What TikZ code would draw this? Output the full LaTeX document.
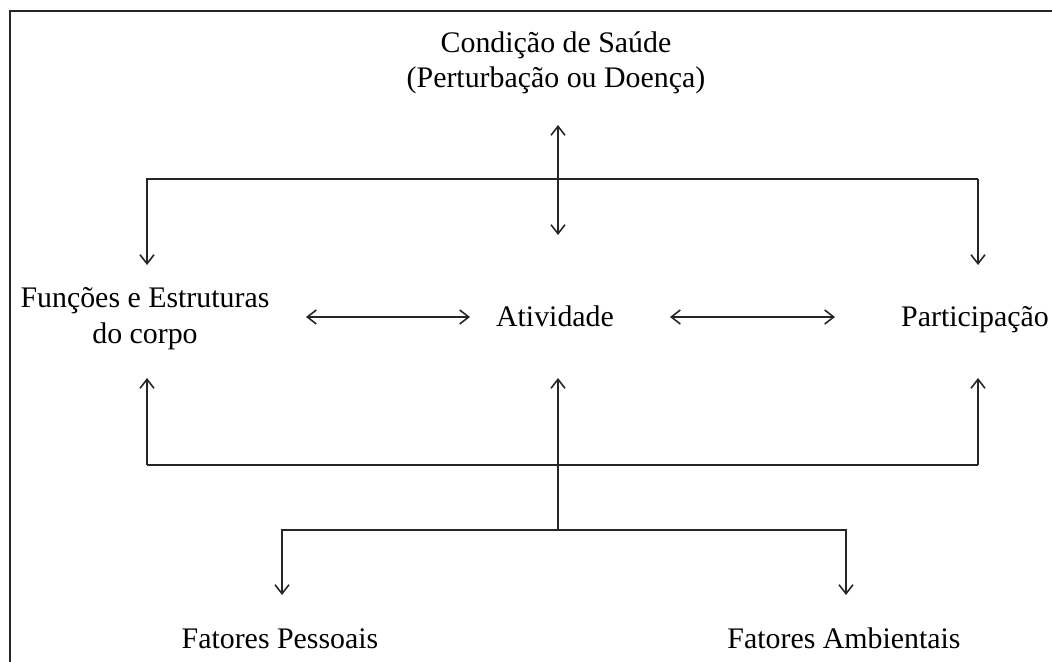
\documentclass[tikz,border=0pt]{standalone}
\usepackage{fontspec}
\setmainfont{Liberation Serif}
\usetikzlibrary{arrows.meta}
\definecolor{traco}{HTML}{262626}

\begin{document}
\begin{tikzpicture}[x=0.02cm, y=-0.02cm,
    rotulo/.style={font=\fontsize{17}{20}\selectfont, align=center, anchor=base, inner sep=0pt},
    seta/.style={-{Straight Barb[length=1.8mm,width=2.8mm]}, line width=0.9pt, traco},
    setadupla/.style={{Straight Barb[length=1.8mm,width=2.8mm]}-{Straight Barb[length=1.8mm,width=2.8mm]}, line width=0.9pt, traco},
    linha/.style={line width=0.9pt, traco}]
    \useasboundingbox (0,0) rectangle (1052,662);

    % Draw the frame (only top and left edges show)
    \draw[line width=1.1pt, black!85] (10,662) -- (10,11) -- (1052,11);

    % Draw the labels
    \node[rotulo] (saude) at (556,88) {Condição de Saúde\\(Perturbação ou Doença)};
    \node[rotulo] (funcoes) at (145,343) {Funções e Estruturas\\do corpo};
    \node[rotulo] (ativ) at (555,327) {Atividade};
    \node[rotulo] (partic) at (975,327) {Participação};
    \node[rotulo] (pessoais) at (280,648) {Fatores Pessoais};
    \node[rotulo] (ambientais) at (844,648) {Fatores Ambientais};

    % Arrow ends and junctions
    \coordinate (saudeB) at (558,125);
    \coordinate (ativT) at (558,235);
    \coordinate (funcT) at (147,265);
    \coordinate (particT) at (978,265);
    \coordinate (topoE) at (147,179);
    \coordinate (funcR) at (306,317);
    \coordinate (ativL) at (470,317);
    \coordinate (ativR) at (670,317);
    \coordinate (particL) at (835,317);
    \coordinate (funcB) at (147,378);
    \coordinate (ativB) at (558,378);
    \coordinate (particB) at (978,378);
    \coordinate (baseE) at (147,465);
    \coordinate (baseM) at (558,465);
    \coordinate (fatM) at (558,530);
    \coordinate (pessT) at (282,595);
    \coordinate (ambT) at (846,595);

    % Health condition to the three components
    \draw[setadupla] (saudeB) -- (ativT);
    \draw[seta] (topoE -| particT) -- (particT);
    \draw[seta] (topoE -| particT) -- (topoE) -- (funcT);

    % Links between the components
    \draw[setadupla] (funcR) -- (ativL);
    \draw[setadupla] (ativR) -- (particL);

    % Contextual factors back to the components
    \draw[seta] (baseE) -- (funcB);
    \draw[seta] (baseM) -- (ativB);
    \draw[seta] (baseE -| particB) -- (particB);
    \draw[linha] (baseE) -- (baseE -| particB);
    \draw[linha] (baseM) -- (fatM);
    \draw[seta] (fatM) -| (pessT);
    \draw[seta] (fatM) -| (ambT);

\end{tikzpicture}
\end{document}
